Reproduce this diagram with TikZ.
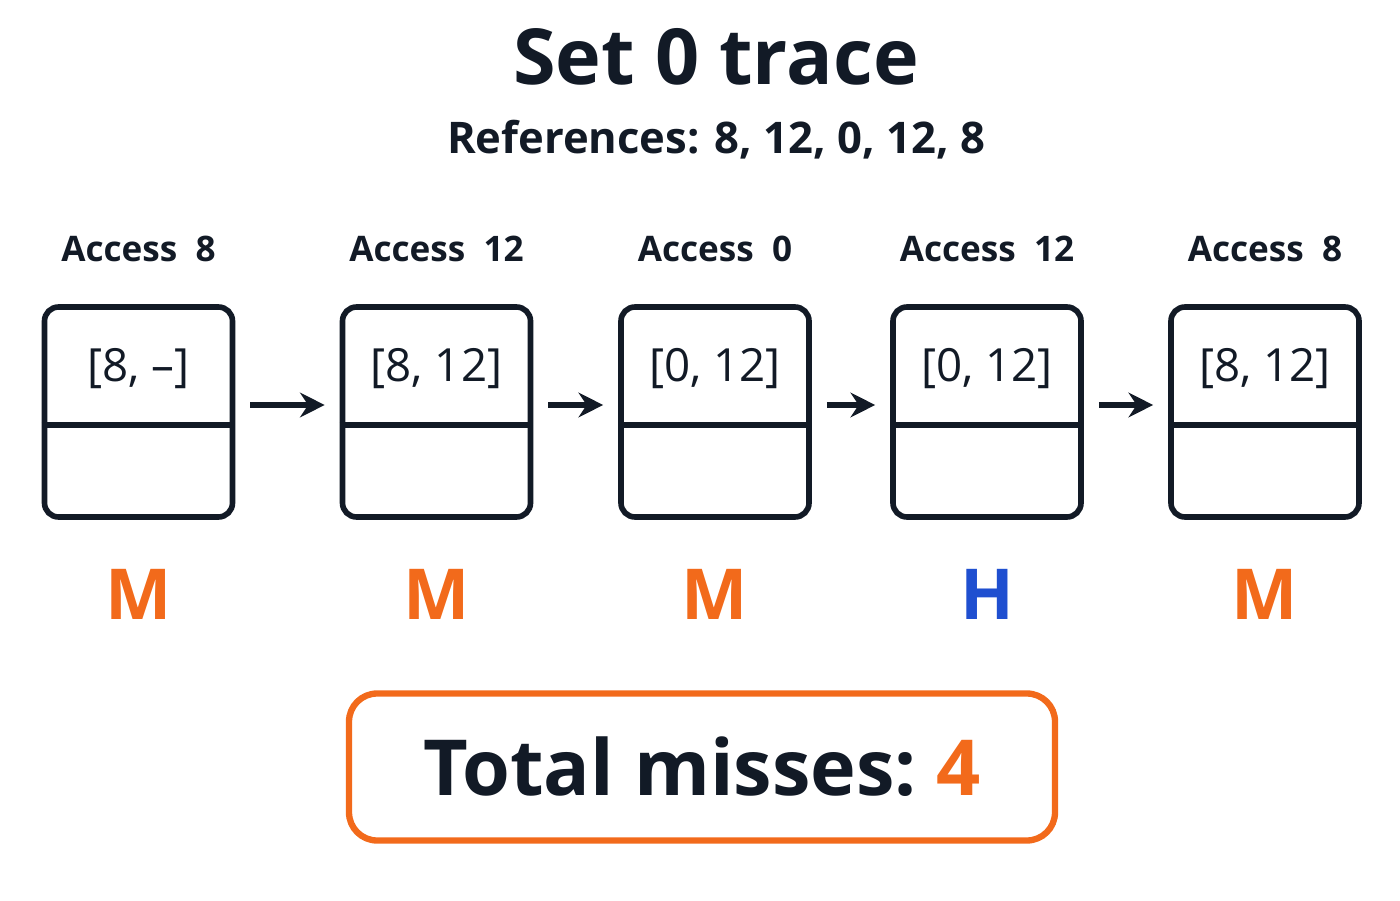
\documentclass[tikz,border=0pt]{standalone}
\usepackage{fontspec}
\setmainfont{Open Sans}
\usetikzlibrary{calc,positioning,arrows.meta}
\definecolor{missorange}{HTML}{F26A1B}
\definecolor{hitblue}{HTML}{1F4FD0}
\definecolor{inkdark}{HTML}{121A26}
\tikzset{
  way/.style={draw=inkdark, line width=1.6pt, rounded corners=4pt, minimum width=1.88cm, minimum height=2.1cm},
  access/.style={font=\fontsize{10}{12}\selectfont\bfseries, text=inkdark},
  content/.style={font=\fontsize{13}{15}\selectfont, text=inkdark},
  verdict/.style={font=\fontsize{20}{24}\selectfont\bfseries},
  next step/.style={-{Stealth[length=7pt,width=7pt]}, line width=1.6pt, draw=inkdark}
}
\begin{document}
\begin{tikzpicture}
\useasboundingbox (0,0) rectangle (14,9);
\node (title) at (7.16,8.43) [font=\fontsize{22}{26}\selectfont\bfseries, text=inkdark] {Set 0 trace};
\node (refs) at (7.16,7.6) [font=\fontsize{12.4}{15}\selectfont\bfseries, text=inkdark] {References: 8, 12, 0, 12, 8};

\foreach \i/\x/\acc/\val/\res/\col in {1/1.385/8/{[8, --]}/M/missorange, 2/4.365/12/{[8, 12]}/M/missorange, 3/7.15/0/{[0, 12]}/M/missorange, 4/9.87/12/{[0, 12]}/H/hitblue, 5/12.65/8/{[8, 12]}/M/missorange}{
  \node (b\i) at (\x,4.88) [way] {};
  \draw[draw=inkdark, line width=1.6pt] ($(b\i.north west)!0.56!(b\i.south west)$) -- ($(b\i.north east)!0.56!(b\i.south east)$);
  \node (v\i) at ($(b\i.north)!0.30!(b\i.south)$) [content] {\val};
  \node (a\i) [access, above=0.3cm of b\i] {Access\ \ \acc};
  \node (r\i) [verdict, text=\col, below=0.37cm of b\i] {\res};
}
\foreach \i/\j in {1/2,2/3,3/4,4/5}{
  \draw[next step] ($(b\i.east)+(0.15,0.07)$) -- ($(b\j.west)+(-0.15,0.07)$);
}
\node (total) at (7.02,1.33) [draw=missorange, line width=1.8pt, rounded corners=8pt, minimum width=7.06cm, minimum height=1.47cm, font=\fontsize{22}{26}\selectfont\bfseries, text=inkdark] {Total misses:\ \textcolor{missorange}{4}};
\end{tikzpicture}
\end{document}
